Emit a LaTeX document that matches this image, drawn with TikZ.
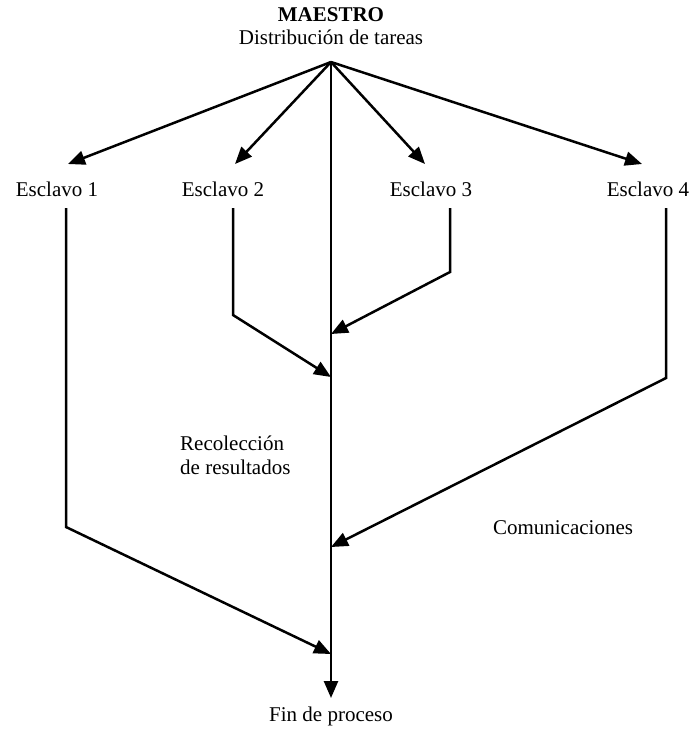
\documentclass[tikz,border=0pt]{standalone}
\usepackage{fontspec}
\setmainfont{Liberation Serif}
\usetikzlibrary{arrows.meta}
\begin{document}
\begin{tikzpicture}[x=1pt,y=-1pt,
  lbl/.style={inner sep=0pt,font=\fontsize{21}{24}\selectfont},
  ln/.style={line width=2.5pt,line join=miter},
  arr/.style={ln,-{Triangle[length=17pt,width=14pt]}}]
\useasboundingbox (0,0) rectangle (697,732);
% labels
\node[lbl,font=\fontsize{21}{25}\selectfont\bfseries] (maestro) at (331,15) {MAESTRO};
\node[lbl] (dist) at (331,37) {Distribución de tareas};
\node[lbl] (e1) at (57,189) {Esclavo 1};
\node[lbl] (e2) at (223,189) {Esclavo 2};
\node[lbl] (e3) at (431,189) {Esclavo 3};
\node[lbl] (e4) at (648,189) {Esclavo 4};
\node[lbl,align=left,anchor=west] (rec) at (180,455) {Recolección\\de resultados};
\node[lbl] (com) at (563,528) {Comunicaciones};
\node[lbl] (fin) at (331,716) {Fin de proceso};
% coordinates
\coordinate (hub) at (331,62);
\coordinate (t1) at (68,164);
\coordinate (t2) at (235,164);
\coordinate (t3) at (425,164);
\coordinate (t4) at (642,164);
\coordinate (end) at (331,698);
\coordinate (s1) at (66,208);
\coordinate (b1) at (66,527);
\coordinate (s2) at (233,208);
\coordinate (b2) at (233,315);
\coordinate (s3) at (450,208);
\coordinate (b3) at (450,272);
\coordinate (s4) at (666,208);
\coordinate (b4) at (666,378);
\coordinate (j3) at (331,334);
\coordinate (j2) at (331,377);
\coordinate (j4) at (331,547);
\coordinate (j1) at (331,654);
% distribution arrows
\draw[arr] (hub) -- (t1);
\draw[arr] (hub) -- (t2);
\draw[arr] (hub) -- (t3);
\draw[arr] (hub) -- (t4);
\draw[arr] (hub) -- (end);
% collection
\draw[arr] (s1) -- (b1) -- (j1);
\draw[arr] (s2) -- (b2) -- (j2);
\draw[arr] (s3) -- (b3) -- (j3);
\draw[arr] (s4) -- (b4) -- (j4);
\end{tikzpicture}
\end{document}
